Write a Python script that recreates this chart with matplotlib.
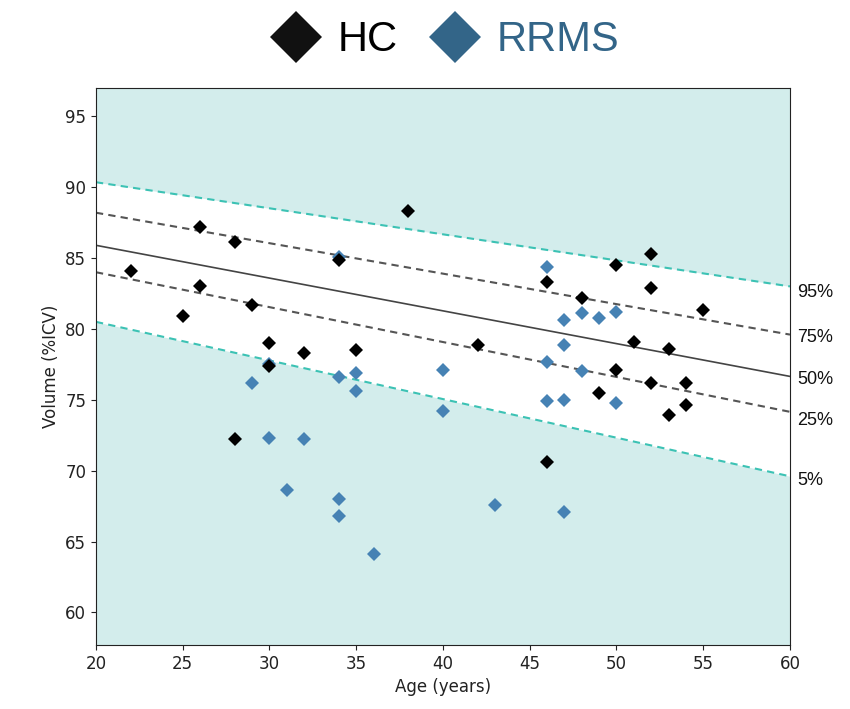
import matplotlib
matplotlib.use("Agg")
import matplotlib.pyplot as plt
from matplotlib.lines import Line2D

# ---- data ----
hc_age = [22, 25, 26, 26, 28, 28, 29, 30, 30, 32, 34, 35, 38, 42, 46, 46, 48, 49,
          50, 50, 51, 52, 52, 52, 53, 53, 54, 54, 55]
hc_vol = [84.1, 80.9, 87.2, 83.0, 86.1, 72.2, 81.7, 79.0, 77.35, 78.3, 84.85, 78.5,
          88.3, 78.9, 83.3, 70.6, 82.15, 75.45, 84.5, 77.1, 79.1, 85.3, 82.9, 76.2,
          78.6, 73.9, 76.2, 74.65, 81.3]

rrms_age = [29, 30, 30, 31, 32, 34, 34, 34, 34, 35, 35, 36, 40, 40, 43, 46, 46, 46,
            47, 47, 47, 47, 48, 48, 49, 50, 50]
rrms_vol = [76.2, 77.5, 72.3, 68.6, 72.2, 85.1, 76.6, 68.0, 66.8, 76.9, 75.6, 64.15,
            77.1, 74.2, 67.6, 84.4, 77.7, 74.9, 80.6, 78.9, 75.0, 67.1, 81.15, 77.0,
            80.75, 81.2, 74.8]

pct_age = [20, 60]
p95 = [90.35, 83.0]
p75 = [88.2, 79.6]
p50 = [85.9, 76.65]
p25 = [84.0, 74.15]
p05 = [80.5, 69.6]
pct_labels = ["95%", "75%", "50%", "25%", "5%"]

x_ticks = [20, 25, 30, 35, 40, 45, 50, 55, 60]
y_ticks = [60, 65, 70, 75, 80, 85, 90, 95]

# ---- styling ----
bg = "#d3edec"
teal = "#3cc2b4"
gray = "#555555"
hc_color = "#000000"
rrms_color = "#4682b4"
rrms_legend = "#336588"

fig = plt.figure(figsize=(8.5, 7.09), dpi=100)
ax = fig.add_axes([0.1129, 0.0903, 0.8165, 0.7856])
ax.set_facecolor(bg)

ax.fill_between(pct_age, p05, p95, color="white", zorder=1, linewidth=0)
ax.plot(pct_age, p95, color=teal, lw=1.5, ls=(0, (3.5, 2.5)), zorder=2)
ax.plot(pct_age, p05, color=teal, lw=1.5, ls=(0, (3.5, 2.5)), zorder=2)
ax.plot(pct_age, p75, color=gray, lw=1.5, ls=(0, (3.5, 2.5)), zorder=2)
ax.plot(pct_age, p25, color=gray, lw=1.5, ls=(0, (3.5, 2.5)), zorder=2)
ax.plot(pct_age, p50, color="#444444", lw=1.2, zorder=2)

ax.plot(rrms_age, rrms_vol, ls="none", marker="D", ms=7, color=rrms_color,
        markeredgewidth=0, zorder=3)
ax.plot(hc_age, hc_vol, ls="none", marker="D", ms=7, color=hc_color,
        markeredgewidth=0, zorder=4)

ax.set_xlim(20, 60)
ax.set_ylim(57.7, 97)
ax.set_xticks(x_ticks)
ax.set_yticks(y_ticks)
ax.tick_params(labelsize=12, colors="#222222")
ax.set_xlabel("Age (years)", fontsize=12, color="#222222")
ax.set_ylabel("Volume (%ICV)", fontsize=12, color="#222222")
for s in ax.spines.values():
    s.set_color("#222222")

# percentile labels at right end
ends = [p95[-1], p75[-1], p50[-1], p25[-1], p05[-1]]
offs = [-0.4, -0.2, -0.2, -0.6, -0.3]
for lab, yv, o in zip(pct_labels, ends, offs):
    ax.text(1.01, yv + o, lab, transform=ax.get_yaxis_transform(),
            fontsize=13, family="Liberation Sans", va="center", ha="left",
            color="#111111", clip_on=False)

handles = [
    Line2D([], [], ls="none", marker="D", ms=26, color="#111111", markeredgewidth=0),
    Line2D([], [], ls="none", marker="D", ms=26, color=rrms_legend, markeredgewidth=0),
]
leg = fig.legend(handles, ["HC", "RRMS"], loc="upper center", bbox_to_anchor=(0.52, 1.024),
                 ncol=2, frameon=False, prop={"family": "Liberation Sans", "size": 30},
                 handletextpad=0.25, columnspacing=0.62, handlelength=1.5)
leg.get_texts()[0].set_color("#000000")
leg.get_texts()[1].set_color(rrms_legend)

fig.savefig("out.png", dpi=100)
